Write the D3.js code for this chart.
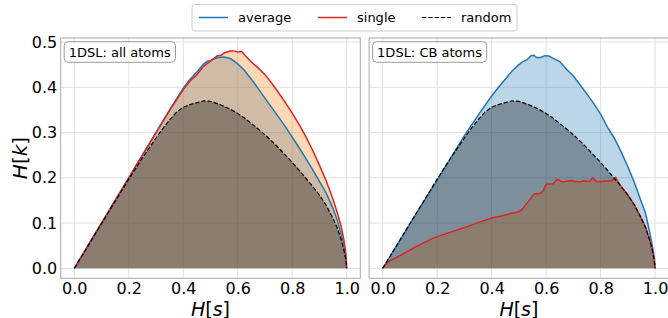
<!DOCTYPE html>
<html>
<head>
<meta charset="utf-8">
<script src="https://cdn.jsdelivr.net/npm/d3@7"></script>
<style>
  html, body { margin: 0; padding: 0; background: #fff; }
  svg { display: block; font-family: "DejaVu Sans", sans-serif; }
</style>
</head>
<body>
<div id="chart"></div>
<script>
// values
const seriesNames = ['average', 'single', 'random'];
const panelLabels = ['1DSL: all atoms', '1DSL: CB atoms'];
const xTicks = [0, 0.2, 0.4, 0.6, 0.8, 1.0];
const yTicks = [0, 0.1, 0.2, 0.3, 0.4, 0.5];

// random baseline (same in both panels)
const randomHs = [0, 0.05, 0.1, 0.15, 0.2, 0.25, 0.3, 0.325, 0.35, 0.375, 0.4, 0.425, 0.45, 0.475, 0.5, 0.525, 0.55, 0.575, 0.6, 0.625, 0.65, 0.675, 0.7, 0.725, 0.75, 0.775, 0.8, 0.825, 0.85, 0.875, 0.9, 0.925, 0.95, 0.965, 0.98, 0.99, 0.997, 1.0];
const randomHk = [0, 0.049, 0.099, 0.148, 0.197, 0.244, 0.288, 0.309, 0.328, 0.345, 0.356, 0.362, 0.366, 0.370, 0.369, 0.364, 0.358, 0.351, 0.342, 0.332, 0.320, 0.308, 0.295, 0.281, 0.266, 0.250, 0.234, 0.217, 0.199, 0.181, 0.162, 0.139, 0.110, 0.090, 0.063, 0.040, 0.018, 0];

// all atoms
const allAvgHs = [0, 0.05, 0.1, 0.15, 0.2, 0.25, 0.3, 0.35, 0.4, 0.425, 0.45, 0.475, 0.49, 0.5, 0.51, 0.525, 0.55, 0.575, 0.6, 0.625, 0.65, 0.675, 0.7, 0.725, 0.75, 0.775, 0.8, 0.825, 0.85, 0.875, 0.9, 0.925, 0.95, 0.965, 0.98, 0.99, 0.997, 1.0];
const allAvgHk = [0, 0.05, 0.1, 0.15, 0.2, 0.25, 0.3, 0.35, 0.398, 0.418, 0.434, 0.452, 0.458, 0.459, 0.462, 0.466, 0.467, 0.463, 0.452, 0.437, 0.418, 0.397, 0.376, 0.355, 0.334, 0.313, 0.290, 0.267, 0.243, 0.218, 0.192, 0.166, 0.132, 0.107, 0.075, 0.048, 0.022, 0];
const allSingleHs = [0, 0.05, 0.1, 0.15, 0.2, 0.25, 0.3, 0.35, 0.4, 0.425, 0.45, 0.475, 0.5, 0.525, 0.54, 0.55, 0.575, 0.59, 0.6, 0.615, 0.625, 0.65, 0.675, 0.7, 0.725, 0.75, 0.775, 0.8, 0.825, 0.85, 0.875, 0.9, 0.925, 0.95, 0.965, 0.98, 0.99, 0.997, 1.0];
const allSingleHk = [0, 0.05, 0.1, 0.15, 0.2, 0.25, 0.3, 0.349, 0.395, 0.414, 0.428, 0.447, 0.458, 0.470, 0.471, 0.476, 0.481, 0.480, 0.478, 0.479, 0.472, 0.456, 0.443, 0.428, 0.409, 0.388, 0.366, 0.343, 0.318, 0.291, 0.261, 0.228, 0.193, 0.152, 0.124, 0.092, 0.062, 0.032, 0];

// CB atoms
const cbAvgHs = [0, 0.05, 0.1, 0.15, 0.2, 0.25, 0.3, 0.35, 0.4, 0.425, 0.45, 0.475, 0.5, 0.515, 0.53, 0.545, 0.555, 0.565, 0.58, 0.595, 0.61, 0.63, 0.65, 0.675, 0.7, 0.725, 0.75, 0.775, 0.8, 0.825, 0.85, 0.875, 0.9, 0.925, 0.95, 0.965, 0.98, 0.99, 0.997, 1.0];
const cbAvgHk = [0, 0.049, 0.098, 0.147, 0.195, 0.244, 0.293, 0.338, 0.381, 0.400, 0.418, 0.436, 0.450, 0.457, 0.461, 0.470, 0.471, 0.466, 0.466, 0.470, 0.469, 0.463, 0.457, 0.440, 0.425, 0.405, 0.385, 0.364, 0.341, 0.312, 0.288, 0.258, 0.225, 0.188, 0.146, 0.122, 0.080, 0.050, 0.024, 0];
const cbSingleHs = [0, 0.01, 0.025, 0.06, 0.12, 0.18, 0.2, 0.25, 0.3, 0.35, 0.4, 0.44, 0.47, 0.5, 0.51, 0.53, 0.545, 0.555, 0.58, 0.59, 0.6, 0.625, 0.64, 0.66, 0.69, 0.72, 0.74, 0.76, 0.77, 0.785, 0.82, 0.84, 0.855, 0.875, 0.9, 0.925, 0.95, 0.965, 0.98, 0.99, 0.997, 1.0];
const cbSingleHk = [0, 0.008, 0.016, 0.027, 0.047, 0.065, 0.070, 0.080, 0.090, 0.101, 0.111, 0.116, 0.121, 0.125, 0.129, 0.144, 0.155, 0.164, 0.166, 0.172, 0.186, 0.187, 0.197, 0.191, 0.194, 0.191, 0.193, 0.192, 0.200, 0.191, 0.193, 0.193, 0.201, 0.181, 0.162, 0.139, 0.110, 0.090, 0.063, 0.040, 0.018, 0];

const zip = (xs, ys) => xs.map((x, i) => ({ x, y: ys[i] }));

const width = 668;
const height = 318;
const plotTop = 38;
const plotBottom = 278.3;
const plotWidth = 299.6;
const font = '"DejaVu Sans", sans-serif';

const colors = { average: '#1f77b4', single: '#d62728', random: '#000000' };

const svg = d3.select('#chart')
  .append('svg')
  .attr('width', width)
  .attr('height', height);

const y = d3.scaleLinear().domain([-0.0221, 0.509]).range([plotBottom, plotTop]);

const panels = [
  { left: 60.7, label: panelLabels[0], avg: zip(allAvgHs, allAvgHk), single: zip(allSingleHs, allSingleHk), yLabels: true },
  { left: 369.1, label: panelLabels[1], avg: zip(cbAvgHs, cbAvgHk), single: zip(cbSingleHs, cbSingleHk), yLabels: false }
];
const randomData = zip(randomHs, randomHk);

panels.forEach(p => {
  const x = d3.scaleLinear().domain([-0.05, 1.05]).range([p.left, p.left + plotWidth]);
  const g = svg.append('g');

  // grid
  g.append('g')
    .selectAll('line')
    .data(xTicks)
    .join('line')
    .attr('x1', d => x(d)).attr('x2', d => x(d))
    .attr('y1', plotTop).attr('y2', plotBottom)
    .attr('stroke', '#e0e0e0').attr('stroke-width', 1);
  g.append('g')
    .selectAll('line')
    .data(yTicks)
    .join('line')
    .attr('x1', p.left).attr('x2', p.left + plotWidth)
    .attr('y1', d => y(d)).attr('y2', d => y(d))
    .attr('stroke', '#e0e0e0').attr('stroke-width', 1);

  const area = d3.area().x(d => x(d.x)).y0(y(0)).y1(d => y(d.y));
  const line = d3.line().x(d => x(d.x)).y(d => y(d.y));

  g.append('path').attr('d', area(p.avg)).attr('fill', '#1f77b4').attr('fill-opacity', 0.3);
  g.append('path').attr('d', area(p.single)).attr('fill', '#ff7f0e').attr('fill-opacity', 0.3);
  g.append('path').attr('d', area(randomData)).attr('fill', '#000').attr('fill-opacity', 0.33);

  g.append('path').attr('d', line(p.avg)).attr('fill', 'none')
    .attr('stroke', colors.average).attr('stroke-width', 1.5);
  g.append('path').attr('d', line(p.single)).attr('fill', 'none')
    .attr('stroke', colors.single).attr('stroke-width', 1.5);
  g.append('path').attr('d', line(randomData)).attr('fill', 'none')
    .attr('stroke', colors.random).attr('stroke-width', 1.2)
    .attr('stroke-dasharray', '4.4,1.9');

  // spines
  g.append('rect')
    .attr('x', p.left).attr('y', plotTop)
    .attr('width', plotWidth).attr('height', plotBottom - plotTop)
    .attr('fill', 'none').attr('stroke', '#a8a8a8').attr('stroke-width', 1);

  // axes
  const xAxis = g.append('g')
    .attr('transform', `translate(0,${plotBottom})`)
    .call(d3.axisBottom(x).tickValues(xTicks).tickFormat(d3.format('.1f')).tickSize(0).tickPadding(4.5));
  xAxis.attr('font-family', font).attr('font-size', 16);
  xAxis.select('.domain').remove();
  xAxis.selectAll('text').attr('fill', '#000');

  if (p.yLabels) {
    const yAxis = g.append('g')
      .attr('transform', `translate(${p.left},0)`)
      .call(d3.axisLeft(y).tickValues(yTicks).tickFormat(d3.format('.1f')).tickSize(0).tickPadding(3.5));
    yAxis.attr('font-family', font).attr('font-size', 16);
    yAxis.select('.domain').remove();
    yAxis.selectAll('text').attr('fill', '#000');
  }

  // x label H[s]
  const xl = g.append('text')
    .attr('x', x(0.5)).attr('y', 315.5)
    .attr('text-anchor', 'middle')
    .style('font-size', '19px');
  xl.append('tspan').attr('font-style', 'italic').text('H');
  xl.append('tspan').text('[');
  xl.append('tspan').attr('font-style', 'italic').text('s');
  xl.append('tspan').text(']');

  // panel label box
  const boxG = g.append('g');
  const box = boxG.append('rect');
  const lt = boxG.append('text')
    .attr('x', p.left + 8).attr('y', 56.7)
    .style('font-size', '13px')
    .text(p.label);
  const bb = lt.node().getBBox();
  box.attr('x', bb.x - 4.5).attr('y', 41.7)
    .attr('width', bb.width + 9).attr('height', 20.6)
    .attr('rx', 4)
    .attr('fill', '#fff').attr('fill-opacity', 0.85)
    .attr('stroke', '#9a9a9a').attr('stroke-width', 1);
});

// y label H[k]
const yl = svg.append('text')
  .attr('transform', 'translate(27,158) rotate(-90)')
  .attr('text-anchor', 'middle')
  .style('font-size', '20px');
yl.append('tspan').attr('font-style', 'italic').text('H');
yl.append('tspan').text('[');
yl.append('tspan').attr('font-style', 'italic').text('k');
yl.append('tspan').text(']');

// legend
const legend = svg.append('g');
legend.append('rect')
  .attr('x', 192).attr('y', 4.5)
  .attr('width', 325).attr('height', 26.5)
  .attr('rx', 3)
  .attr('fill', '#fff')
  .attr('stroke', '#cccccc').attr('stroke-width', 1);
const legendLineX = [199, 318, 422];
seriesNames.forEach((name, i) => {
  const lx = legendLineX[i];
  const ln = legend.append('line')
    .attr('x1', lx).attr('x2', lx + 29)
    .attr('y1', 17.5).attr('y2', 17.5)
    .attr('stroke', colors[name])
    .attr('stroke-width', name === 'random' ? 1.2 : 1.5);
  if (name === 'random') ln.attr('stroke-dasharray', '4.4,1.9');
  legend.append('text')
    .attr('x', lx + 39).attr('y', 22)
    .style('font-size', '13px')
    .text(name);
});
</script>
</body>
</html>
